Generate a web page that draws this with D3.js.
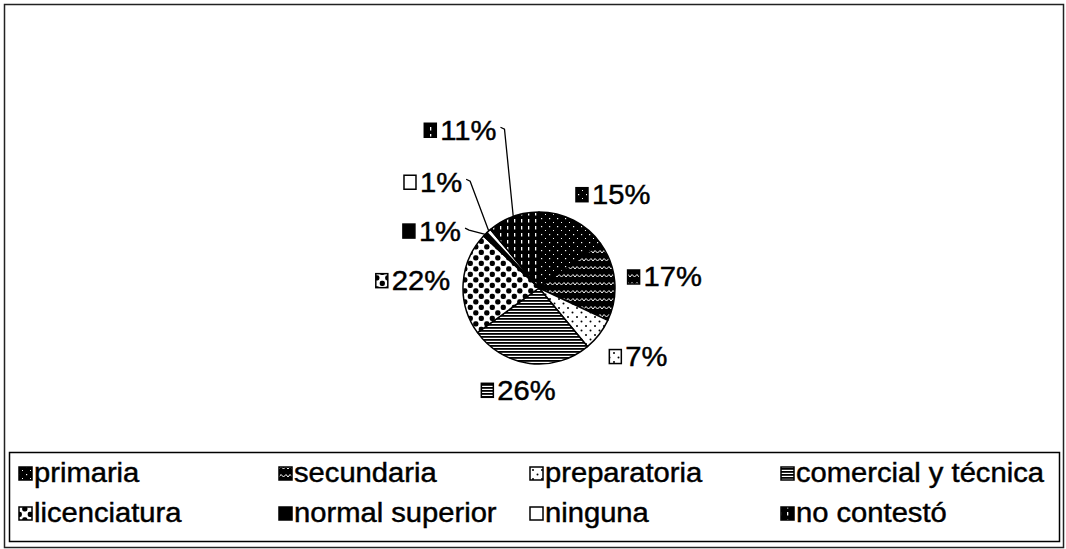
<!DOCTYPE html>
<html>
<head>
<meta charset="utf-8">
<script src="https://cdn.jsdelivr.net/npm/d3@7.9.0/dist/d3.min.js"></script>
<style>
  body { margin: 0; background: #fff; }
  text { font-family: "Liberation Sans", Arial, sans-serif; fill: #000; stroke: #000; stroke-width: 0.45px; }
</style>
</head>
<body>
<svg id="chart" width="1066" height="549"></svg>
<script>
// education level of respondents
const categories = ["primaria", "secundaria", "preparatoria", "comercial y técnica",
                    "licenciatura", "normal superior", "ninguna", "no contestó"];
const percents = [15, 17, 7, 26, 22, 1, 1, 11];
const fills = ["url(#pPrim)", "url(#pSec)", "url(#pPrep)", "url(#pCom)",
               "url(#pLic)", "#000", "#fff", "url(#pNo)"];

// small slices get moved up with a leader line (like excel does)
const labelNudge = { "normal superior": [-15, 20], "ninguna": [-18, -25], "no contestó": [-24, -60] };
const legendColX = [19, 279, 530, 781];
const stretch = 1.08; // scanned text is a bit wider than Arial

const width = 1066, height = 549;
const cx = 539, cy = 288, r = 76;

const svg = d3.select("#chart");
const defs = svg.append("defs");

// fill patterns, black & white like the scanned original
let p = defs.append("pattern").attr("id", "pPrim").attr("patternUnits", "userSpaceOnUse").attr("width", 8).attr("height", 8);
p.append("rect").attr("width", 8).attr("height", 8).attr("fill", "#000");
p.append("rect").attr("x", 2).attr("y", 2).attr("width", 1.2).attr("height", 1.2).attr("fill", "#fff");
p.append("rect").attr("x", 6).attr("y", 6).attr("width", 1).attr("height", 1).attr("fill", "#fff");

p = defs.append("pattern").attr("id", "pSec").attr("patternUnits", "userSpaceOnUse").attr("width", 9).attr("height", 8);
p.append("rect").attr("width", 9).attr("height", 8).attr("fill", "#000");
p.append("path").attr("d", "M0,5 L2,2.5 L4.5,5 L7,2.5 L9,5").attr("fill", "none").attr("stroke", "#fff").attr("stroke-width", 1);

p = defs.append("pattern").attr("id", "pPrep").attr("patternUnits", "userSpaceOnUse").attr("width", 9).attr("height", 9);
p.append("rect").attr("width", 9).attr("height", 9).attr("fill", "#fff");
p.append("circle").attr("cx", 2).attr("cy", 2).attr("r", 1).attr("fill", "#000");
p.append("circle").attr("cx", 6.5).attr("cy", 6.5).attr("r", 1).attr("fill", "#000");

p = defs.append("pattern").attr("id", "pCom").attr("patternUnits", "userSpaceOnUse").attr("width", 4).attr("height", 3);
p.append("rect").attr("width", 4).attr("height", 3).attr("fill", "#fff");
p.append("rect").attr("width", 4).attr("height", 1.8).attr("fill", "#000");

p = defs.append("pattern").attr("id", "pLic").attr("patternUnits", "userSpaceOnUse").attr("width", 11).attr("height", 11);
p.append("rect").attr("width", 11).attr("height", 11).attr("fill", "#fff");
p.append("rect").attr("x", 0.2).attr("y", 0.2).attr("width", 5.2).attr("height", 5.2).attr("rx", 2).attr("fill", "#000");
p.append("rect").attr("x", 5.7).attr("y", 5.7).attr("width", 5.2).attr("height", 5.2).attr("rx", 2).attr("fill", "#000");

p = defs.append("pattern").attr("id", "pNo").attr("patternUnits", "userSpaceOnUse").attr("width", 7).attr("height", 7);
p.append("rect").attr("width", 7).attr("height", 7).attr("fill", "#000");
p.append("rect").attr("x", 3).attr("y", 1).attr("width", 1.3).attr("height", 3.5).attr("fill", "#fff");

// outer chart border
svg.append("rect")
    .attr("x", 4.5).attr("y", 4.5)
    .attr("width", 1059).attr("height", 543)
    .attr("fill", "none").attr("stroke", "#222").attr("stroke-width", 1.5);

let data = categories.map((c, i) => ({ label: c, value: percents[i], fill: fills[i] }));

let pie = d3.pie().sort(null).value((d) => d.value);
let arcData = pie(data);
let arcGen = d3.arc().innerRadius(0).outerRadius(r);

let g = svg.append("g").attr("transform", `translate(${cx},${cy})`);
g.selectAll("path")
    .data(arcData)
    .join("path")
    .attr("d", arcGen)
    .attr("fill", (d) => d.data.fill)
    .attr("stroke", "#000")
    .attr("stroke-width", 1.5)
    .attr("stroke-linejoin", "round");

function widen(t) {
    let n = t.node().getComputedTextLength();
    t.attr("textLength", n * stretch).attr("lengthAdjust", "spacingAndGlyphs");
    return n * stretch;
}

// data labels: icon + percent
const clamp = (v) => Math.max(-1, Math.min(1, v));
arcData.forEach((d) => {
    let mid = (d.startAngle + d.endAngle) / 2;
    let ax = cx + (r + 13) * Math.sin(mid);
    let ay = cy - (r + 13) * Math.cos(mid);

    let lab = svg.append("g");
    let t = lab.append("text")
        .attr("font-size", 27)
        .attr("dy", "0.35em")
        .text(`${d.data.value}%`);
    let tw = widen(t);
    let w = 16 + tw, h = 28;

    let lx = ax + (w / 2) * clamp(2 * Math.sin(mid));
    let ly = ay - (h / 2) * clamp(2 * Math.cos(mid));
    let nudge = labelNudge[d.data.label];
    if (nudge) { lx += nudge[0]; ly += nudge[1]; }

    let left = lx - w / 2;
    lab.insert("rect", "text")
        .attr("x", left).attr("y", ly - 7)
        .attr("width", 12).attr("height", 14)
        .attr("fill", d.data.fill)
        .attr("stroke", "#000").attr("stroke-width", 1.5);
    t.attr("x", left + 16).attr("y", ly);

    if (nudge) {
        let ex = cx + r * Math.sin(mid);
        let ey = cy - r * Math.cos(mid);
        let sx = left + w + 4;
        svg.append("polyline")
            .attr("points", [[sx, ly - 3], [sx + 4, ly - 1], [ex, ey]].map((q) => q.join(",")).join(" "))
            .attr("fill", "none")
            .attr("stroke", "#000")
            .attr("stroke-width", 1.3);
    }
});

// legend box
svg.append("rect")
    .attr("x", 9.5).attr("y", 452.5)
    .attr("width", 1050).attr("height", 89)
    .attr("fill", "#fff").attr("stroke", "#000").attr("stroke-width", 1.5);

let rowY = d3.scaleBand().domain([0, 1]).range([453, 533]);
let legend = svg.append("g");
data.forEach((d, i) => {
    let x = legendColX[i % 4];
    let y = rowY(Math.floor(i / 4)) + rowY.bandwidth() / 2;
    legend.append("rect")
        .attr("x", x).attr("y", y - 6)
        .attr("width", 13).attr("height", 13)
        .attr("fill", d.fill)
        .attr("stroke", "#000").attr("stroke-width", 1.5);
    let t = legend.append("text")
        .attr("x", x + 15).attr("y", y)
        .attr("dy", "0.35em")
        .attr("font-size", 27)
        .text(d.label);
    widen(t);
});
</script>
</body>
</html>
